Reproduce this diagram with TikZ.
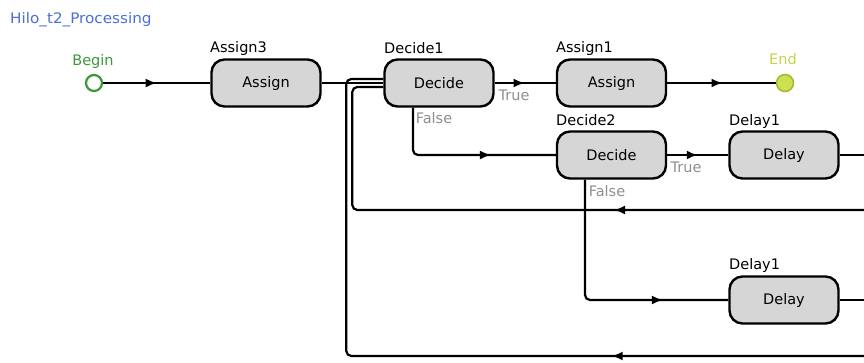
\documentclass[tikz,border=0pt]{standalone}
\usepackage{fontspec}
\setmainfont{DejaVu Sans}
\usetikzlibrary{decorations.markings,arrows.meta}
\definecolor{titleblue}{HTML}{4A6FD8}
\definecolor{begingreen}{HTML}{3C963C}
\definecolor{endlabel}{HTML}{C4D448}
\definecolor{endfill}{HTML}{CCE050}
\definecolor{endline}{HTML}{A8B838}
\definecolor{boxgray}{HTML}{D6D6D6}
\definecolor{condgray}{HTML}{8E8E8E}
\begin{document}
\begin{tikzpicture}[x=1pt,y=-1pt,
  txt/.style={font=\fontsize{14.5}{16}\selectfont},
  block/.style={txt, draw=black, line width=2.4pt, fill=boxgray, rounded corners=13pt,
    minimum width=109pt, minimum height=47pt, inner sep=0pt},
  lbl/.style={txt, inner sep=0pt, anchor=west},
  cond/.style={txt, inner sep=0pt, text=condgray},
  flow/.style={line width=2.2pt, rounded corners=5pt},
  tipat/.style={postaction={decorate}, decoration={markings,
    mark=at position #1 with {\arrow{Latex[length=11pt,width=9pt]}}}}
]
\useasboundingbox (0,0) rectangle (864,362);

% title
\node[txt, anchor=west, inner sep=0pt, text=titleblue] (title) at (10,20)
  {\scalebox{1.05}[1]{Hilo\_t2\_Processing}};

% start / end
\node[circle, draw=begingreen, line width=2.2pt, fill=white, minimum size=16pt, inner sep=0pt] (begin) at (94,83) {};
\node[txt, text=begingreen, inner sep=0pt] (beginlbl) at (93,61) {Begin};
\node[circle, draw=endline, fill=endfill, line width=1.6pt, minimum size=17pt, inner sep=0pt] (end) at (785,83) {};
\node[txt, text=endlabel, inner sep=0pt] (endlbl) at (783,59) {End};

% blocks
\node[block] (assign3) at (266,83) {Assign};
\node[lbl] (assign3lbl) at (210,48) {Assign3};
\node[block] (decide1) at (439,83) {Decide};
\node[lbl] (decide1lbl) at (384,48) {Decide1};
\node[block] (assign1) at (611.5,83) {Assign};
\node[lbl] (assign1lbl) at (556,48) {Assign1};
\node[block] (decide2) at (611.5,155) {Decide};
\node[lbl] (decide2lbl) at (556,120) {Decide2};
\node[block] (delayA) at (784,155) {Delay};
\node[lbl] (delayAlbl) at (729,121) {Delay1};
\node[block] (delayB) at (784,300) {Delay};
\node[lbl] (delayBlbl) at (729,265) {Delay1};

% condition labels
\node[cond] (true1) at (514,95) {True};
\node[cond] (false1) at (434,118) {False};
\node[cond] (true2) at (686,167) {True};
\node[cond] (false2) at (607,191) {False};

% free ends at the right border
\coordinate (rA) at (864,155);
\coordinate (rB) at (864,300);
\coordinate (r1) at (864,210);
\coordinate (r2) at (864,356);
\coordinate (in1) at ([yshift=-4pt]decide1.west);
\coordinate (in2) at ([yshift=4pt]decide1.west);

% connectors
\draw[flow, tipat=0.5] (begin) -- (assign3);
\draw[flow] (assign3) -- (decide1);
\draw[flow, tipat=0.49] (decide1) -- (assign1);
\draw[flow, tipat=0.51] (assign1) -- (end);
\draw[flow, tipat=0.655] ([xshift=-26pt]decide1.south) |- (decide2);
\draw[flow, tipat=0.5] (decide2) -- (delayA);
\draw[flow, tipat=0.75] ([xshift=-26.5pt]decide2.south) |- (delayB);
\draw[flow] (delayA) -- (rA);
\draw[flow] (delayB) -- (rB);
\draw[flow, tipat=0.378] (r1) -| ([xshift=-31pt]in1) -- (in1);
\draw[flow, tipat=0.305] (r2) -| ([xshift=-37pt]in2) -- (in2);
\end{tikzpicture}
\end{document}
